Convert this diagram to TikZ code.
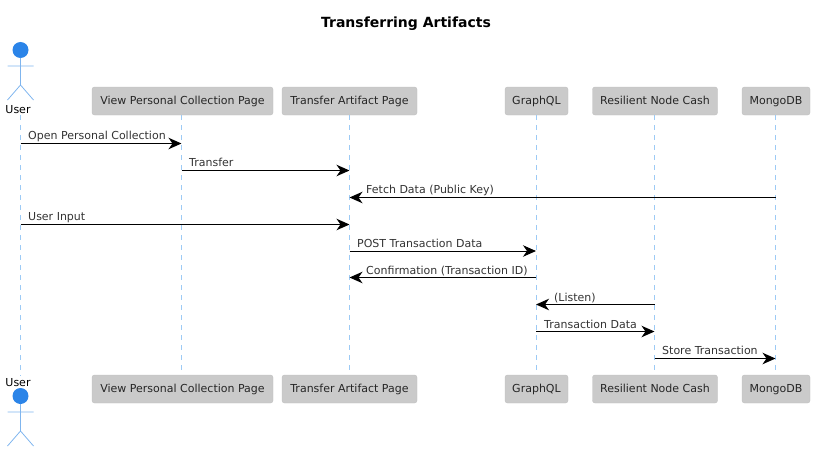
\documentclass[tikz,border=0pt]{standalone}
\usepackage{fontspec}
\setmainfont{DejaVu Sans}
\usetikzlibrary{arrows.meta}
\definecolor{actorblue}{HTML}{2B84E8}
\definecolor{linegray}{HTML}{CACACA}
\definecolor{lifeblue}{HTML}{9CCAF5}
\definecolor{stickblue}{HTML}{7FB5EE}
\definecolor{msgtext}{HTML}{333333}
\tikzset{
  x=1pt,y=-1pt,
  part/.style={fill=linegray,draw=linegray!95!black,line width=.4pt,rounded corners=2.5pt,minimum height=28pt,inner sep=0pt,text height=9pt,text depth=2pt,font=\fontsize{11}{13}\selectfont,text=black!85},
  lifeline/.style={lifeblue,line width=.9pt,dash pattern=on 5pt off 5pt},
  msg/.style={black,line width=1pt,-{Stealth[length=13pt,width=11.5pt,inset=4pt]}},
  msgtxt/.style={font=\fontsize{11}{13}\selectfont,text=msgtext,anchor=base west,inner sep=0pt},
  actorname/.style={font=\fontsize{11}{13}\selectfont,text=black,inner sep=0pt,anchor=base},
  stick/.style={stickblue,line width=.8pt}
}
\newcommand{\stickman}[2]{%
  \fill[actorblue] (#1,#2+8) circle (8);
  \draw[stick] (#1,#2+16)--(#1,#2+43) (#1-13,#2+24)--(#1+13,#2+24)
    (#1-13,#2+58)--(#1,#2+43)--(#1+13,#2+58);}
\begin{document}
\begin{tikzpicture}
\useasboundingbox (0,0) rectangle (814,452);
\node[font=\bfseries\fontsize{14}{16}\selectfont,anchor=base] (title) at (406,28) {Transferring Artifacts};
% top participants
\node[part,minimum width=181pt] (t2) at (182.5,101) {View Personal Collection Page};
\node[part,minimum width=135pt] (t3) at (349.5,101) {Transfer Artifact Page};
\node[part,minimum width=63pt] (t4) at (536.5,101) {GraphQL};
\node[part,minimum width=125pt] (t5) at (655,101) {Resilient Node Cash};
\node[part,minimum width=68pt] (t6) at (776,101) {MongoDB};
% bottom participants
\node[part,minimum width=181pt] (b2) at (182.5,389) {View Personal Collection Page};
\node[part,minimum width=135pt] (b3) at (349.5,389) {Transfer Artifact Page};
\node[part,minimum width=63pt] (b4) at (536.5,389) {GraphQL};
\node[part,minimum width=125pt] (b5) at (655,389) {Resilient Node Cash};
\node[part,minimum width=68pt] (b6) at (776,389) {MongoDB};
% actors
\stickman{20.5}{42}
\stickman{20.5}{388}
\node[actorname] (t1) at (18,113) {User};
\node[actorname] (b1) at (18,386) {User};
% lifeline anchors
\coordinate (u) at (20.5,115);
\coordinate (ub) at (20.5,376);
\coordinate (l2) at (181.5,115);
\coordinate (l2b) at (181.5,372);
\coordinate (l3) at (349.5,115);
\coordinate (l3b) at (349.5,372);
\coordinate (l4) at (536,115);
\coordinate (l4b) at (536,372);
\coordinate (l5) at (654.5,115);
\coordinate (l5b) at (654.5,372);
\coordinate (l6) at (775.5,115);
\coordinate (l6b) at (775.5,372);
\draw[lifeline] (u)--(ub);
\draw[lifeline] (l2)--(l2b);
\draw[lifeline] (l3)--(l3b);
\draw[lifeline] (l4)--(l4b);
\draw[lifeline] (l5)--(l5b);
\draw[lifeline] (l6)--(l6b);
% messages
\draw[msg] (20.5,143.5)--(181.5,143.5);
\node[msgtxt] (m1) at (28,139) {Open Personal Collection};
\draw[msg] (181.5,170.5)--(349.5,170.5);
\node[msgtxt] (m2) at (189,166) {Transfer};
\draw[msg] (775.5,197.5)--(349.5,197.5);
\node[msgtxt] (m3) at (366,193) {Fetch Data (Public Key)};
\draw[msg] (20.5,224.5)--(349.5,224.5);
\node[msgtxt] (m4) at (28,220) {User Input};
\draw[msg] (349.5,251)--(536,251);
\node[msgtxt] (m5) at (357,247) {POST Transaction Data};
\draw[msg] (536,277.5)--(349.5,277.5);
\node[msgtxt] (m6) at (366,274) {Confirmation (Transaction ID)};
\draw[msg] (654.5,304.5)--(536,304.5);
\node[msgtxt] (m7) at (554,301) {(Listen)};
\draw[msg] (536,331.5)--(654.5,331.5);
\node[msgtxt] (m8) at (544,328) {Transaction Data};
\draw[msg] (654.5,358.5)--(775.5,358.5);
\node[msgtxt] (m9) at (662,354) {Store Transaction};
\end{tikzpicture}
\end{document}
